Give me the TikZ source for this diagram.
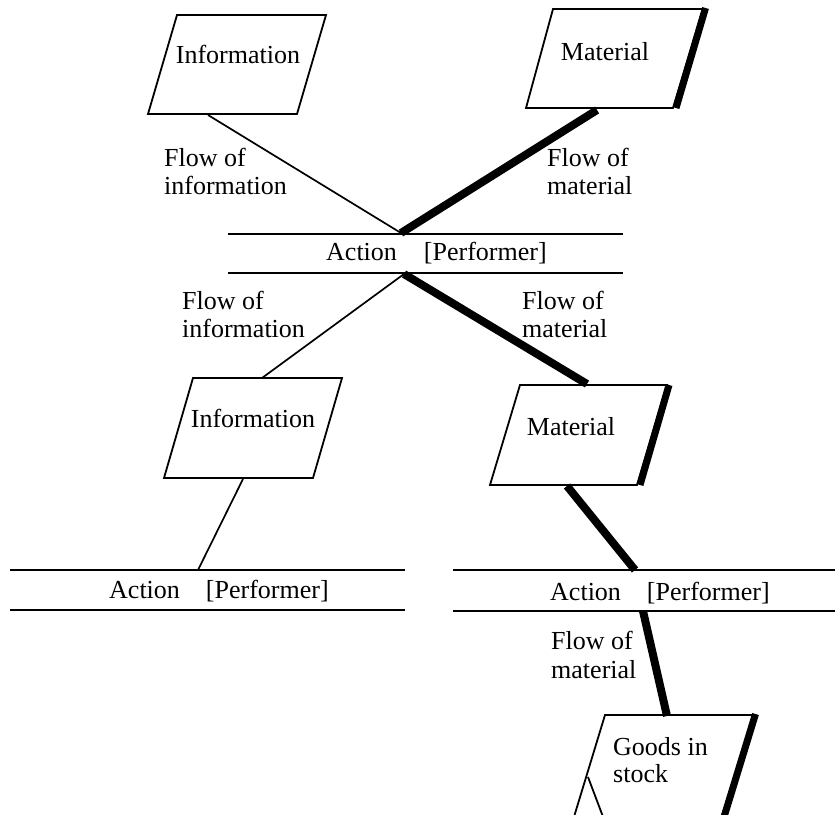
\documentclass[tikz,border=0pt]{standalone}
\usepackage{fontspec}
\setmainfont{Liberation Serif}
\begin{document}
\begin{tikzpicture}[x=1pt,y=-1pt,
  outline/.style={line width=1.8pt, line join=miter},
  heavyedge/.style={line width=7pt},
  infoflow/.style={line width=1.7pt},
  matflow/.style={line width=8pt},
  actline/.style={line width=1.8pt},
  txt/.style={inner sep=0pt, font=\fontsize{26}{26}\selectfont},
  lbl/.style={txt, anchor=base west},
  ctr/.style={txt, anchor=base}]
\useasboundingbox (0,0) rectangle (835,814);
\clip (0,0) rectangle (835,814);

% ---------- action bars ----------
\coordinate (a1tl) at (228,234); \coordinate (a1tr) at (623,234);
\coordinate (a1bl) at (228,273); \coordinate (a1br) at (623,273);
\draw[actline] (a1tl) -- (a1tr) (a1bl) -- (a1br);
\node[lbl] (act1) at (326,260) {Action\hspace{27pt}[Performer]};
\coordinate (a1top) at (401,233);
\coordinate (a1bot) at (404,274);

\coordinate (a2tl) at (10,570); \coordinate (a2tr) at (405,570);
\coordinate (a2bl) at (10,610); \coordinate (a2br) at (405,610);
\draw[actline] (a2tl) -- (a2tr) (a2bl) -- (a2br);
\node[lbl] (act2) at (109,598) {Action\hspace{26pt}[Performer]};
\coordinate (a2top) at (198,570);

\coordinate (a3tl) at (453,570); \coordinate (a3tr) at (840,570);
\coordinate (a3bl) at (453,611); \coordinate (a3br) at (840,611);
\draw[actline] (a3tl) -- (a3tr) (a3bl) -- (a3br);
\node[lbl] (act3) at (550,600) {Action\hspace{26pt}[Performer]};
\coordinate (a3top) at (635,570);
\coordinate (a3bot) at (643,611);

% ---------- data / material boxes ----------
% Information (top)
\draw[outline] (177,15) -- (326,15) -- (297,114) -- (148,114) -- cycle;
\node[ctr] (info1) at (238,63) {Information};
\coordinate (info1b) at (208,115);

% Material (top)
\draw[outline] (553,9) -- (703,9) -- (673,108) -- (526,108) -- cycle;
\draw[heavyedge] (705.5,8) -- (676,108);
\node[ctr] (mat1) at (605,60) {Material};
\coordinate (mat1b) at (597,110);

% Information (middle)
\draw[outline] (193,378) -- (342,378) -- (313,478) -- (164,478) -- cycle;
\node[ctr] (info2) at (253,427) {Information};
\coordinate (info2t) at (262,378);
\coordinate (info2b) at (243,479);

% Material (middle)
\draw[outline] (520,385) -- (667,385) -- (637,485) -- (490,485) -- cycle;
\draw[heavyedge] (669,385) -- (640,485);
\node[ctr] (mat2) at (571,435) {Material};
\coordinate (mat2t) at (587,384);
\coordinate (mat2b) at (567,486);

% Goods in stock (bottom)
\draw[outline] (570,830) -- (605,715) -- (753,715) -- (718,830);
\draw[heavyedge] (755.5,714) -- (720,830);
\draw[outline] (588,777) -- (608,830);
\node[lbl] (goods1) at (613,755) {Goods in};
\node[lbl] (goods2) at (613,782) {stock};
\coordinate (goodst) at (667,716);

% ---------- flows ----------
\draw[infoflow] (info1b) -- (a1top);
\draw[matflow] (mat1b) -- (a1top);
\draw[infoflow] (a1bot) -- (info2t);
\draw[matflow] (a1bot) -- (mat2t);
\draw[infoflow] (info2b) -- (a2top);
\draw[matflow] (mat2b) -- (a3top);
\draw[matflow] (a3bot) -- (goodst);

% ---------- flow labels ----------
\node[lbl] (fi1a) at (164,166) {Flow of};
\node[lbl] (fi1b) at (164,194) {information};
\node[lbl] (fm1a) at (547,166) {Flow of};
\node[lbl] (fm1b) at (547,194) {material};
\node[lbl] (fi2a) at (182,309) {Flow of};
\node[lbl] (fi2b) at (182,337) {information};
\node[lbl] (fm2a) at (522,309) {Flow of};
\node[lbl] (fm2b) at (522,337) {material};
\node[lbl] (fm3a) at (551,649) {Flow of};
\node[lbl] (fm3b) at (551,678) {material};
\end{tikzpicture}
\end{document}
